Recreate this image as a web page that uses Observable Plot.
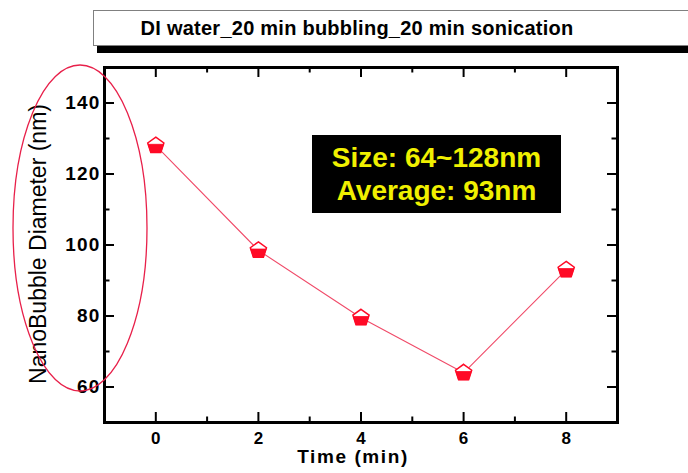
<!DOCTYPE html>
<html>
<head>
<meta charset="utf-8">
<script src="https://cdn.jsdelivr.net/npm/d3@7"></script>
<script src="https://cdn.jsdelivr.net/npm/@observablehq/plot@0.6"></script>
<style>
  html, body { margin: 0; padding: 0; background: #fff; }
  #chart { position: relative; width: 688px; height: 473px; overflow: hidden; font-family: "Liberation Sans", Arial, sans-serif; }
  #note {
    position: absolute; left: 312px; top: 135px; width: 249px; height: 78px;
    background: #000; color: #f0f000; font-weight: bold; font-size: 28px;
    line-height: 33px; text-align: center; box-sizing: border-box; padding-top: 6px;
  }
  #chart svg { position: absolute; left: 0; top: 0; }
</style>
</head>
<body>
<div id="chart"></div>
<script>
// Measured nanobubble diameter over time
const times = [0, 2, 4, 6, 8];
const diameters = [128, 98.5, 79.5, 64, 93];

// Axis ticks
const xMajor = [0, 2, 4, 6, 8];
const xMinor = [1, 3, 5, 7];
const yMajor = [60, 80, 100, 120, 140];
const yMinor = [70, 90, 110, 130];

// Text
const titleText = "DI water_20 min bubbling_20 min sonication";
const xLabel = "Time (min)";
const yLabel = "NanoBubble Diameter (nm)";

const data = times.map((t, i) => ({time: t, diameter: diameters[i]}));

const W = 688, H = 473;
const mL = 104, mR = 71, mT = 67, mB = 51;
const frameW = W - mL - mR, frameH = H - mT - mB;
const red = "#ff0a26";
const font = "'Liberation Sans', Arial, sans-serif";

// Regular pentagon, point up
function pentagonPoints(r) {
  return d3.range(5).map(i => {
    const a = -Math.PI / 2 + i * 2 * Math.PI / 5;
    return [r * Math.cos(a), r * Math.sin(a)];
  });
}
// Keep the part of a polygon below the horizontal line y = ys
function clipBelow(pts, ys) {
  const out = [];
  for (let i = 0; i < pts.length; i++) {
    const p = pts[i], q = pts[(i + 1) % pts.length];
    const pin = p[1] >= ys, qin = q[1] >= ys;
    if (pin) out.push(p);
    if (pin !== qin) {
      const t = (ys - p[1]) / (q[1] - p[1]);
      out.push([p[0] + t * (q[0] - p[0]), ys]);
    }
  }
  return out;
}
function polyPath(ctx, pts) {
  ctx.moveTo(pts[0][0], pts[0][1]);
  for (let i = 1; i < pts.length; i++) ctx.lineTo(pts[i][0], pts[i][1]);
  ctx.closePath();
}
const pentagon = {draw(ctx, size) { polyPath(ctx, pentagonPoints(Math.sqrt(size / Math.PI))); }};
const lowerPentagon = {draw(ctx, size) {
  const r = Math.sqrt(size / Math.PI);
  polyPath(ctx, clipBelow(pentagonPoints(r), -0.15 * r));
}};

const majorLen = 10, minorLen = 5.5;
const tickStyle = {stroke: "#000", strokeOpacity: 1, strokeWidth: 2};

const plot = Plot.plot({
  width: W, height: H,
  marginLeft: mL, marginRight: mR, marginTop: mT, marginBottom: mB,
  style: {fontFamily: font, fontSize: "17px", fontWeight: "bold", color: "#000", background: "transparent"},
  x: {domain: [-1, 9]},
  y: {domain: [50, 150]},
  marks: [
    // inward ticks on all four sides
    Plot.gridX(xMajor, {...tickStyle, insetTop: frameH - majorLen}),
    Plot.gridX(xMinor, {...tickStyle, insetTop: frameH - minorLen}),
    Plot.gridX(xMajor, {...tickStyle, insetBottom: frameH - majorLen}),
    Plot.gridX(xMinor, {...tickStyle, insetBottom: frameH - minorLen}),
    Plot.gridY(yMajor, {...tickStyle, insetRight: frameW - majorLen}),
    Plot.gridY(yMinor, {...tickStyle, insetRight: frameW - minorLen}),
    Plot.gridY(yMajor, {...tickStyle, insetLeft: frameW - majorLen}),
    Plot.gridY(yMinor, {...tickStyle, insetLeft: frameW - minorLen}),
    Plot.frame({stroke: "#000", strokeWidth: 3}),
    Plot.axisX({ticks: xMajor, tickSize: 0, tickPadding: 9, label: null, fontSize: 17, fontWeight: "bold"}),
    Plot.axisY({ticks: yMajor, tickSize: 0, tickPadding: 4, label: null, fontSize: 19, fontWeight: "bold"}),
    Plot.text([xLabel], {frameAnchor: "bottom", dy: 40, dx: -8, fontWeight: "bold", fontSize: 19, textAnchor: "middle"}),
    Plot.text([yLabel], {frameAnchor: "left", rotate: -90, dx: -66, dy: -1, fontWeight: "normal", fontSize: 23, textAnchor: "middle"}),
    Plot.line(data, {x: "time", y: "diameter", stroke: "#f04a68", strokeWidth: 1.1}),
    Plot.dot(data, {x: "time", y: "diameter", symbol: pentagon, r: 8.5, fill: "#fff", stroke: red, strokeWidth: 1.5}),
    Plot.dot(data, {x: "time", y: "diameter", symbol: lowerPentagon, r: 8.5, fill: red, stroke: red, strokeWidth: 0.8})
  ]
});

const svg = d3.select(plot);
svg.selectAll('g[aria-label="y-axis tick label"]').attr("letter-spacing", 1.2);
svg.selectAll("text").filter(function() { return this.textContent === xLabel; }).attr("letter-spacing", 1.6);

// Highlight ring around the vertical axis label
svg.append("ellipse")
  .attr("cx", 80).attr("cy", 228).attr("rx", 67).attr("ry", 163)
  .attr("fill", "none").attr("stroke", "#e8204a").attr("stroke-width", 1.3);

// Title box with its drop shadow
const head = svg.append("g");
head.append("rect").attr("x", 97).attr("y", 44).attr("width", 640).attr("height", 9).attr("fill", "#000");
head.append("rect").attr("x", 93.5).attr("y", 10.5).attr("width", 640).attr("height", 35)
  .attr("fill", "#fff").attr("stroke", "#808080").attr("stroke-width", 1);
head.append("text").attr("x", 357).attr("y", 35)
  .attr("text-anchor", "middle").attr("font-family", font).attr("font-size", 20)
  .attr("font-weight", "bold").attr("letter-spacing", 0.25).attr("fill", "#000")
  .text(titleText);

const chart = document.getElementById("chart");
chart.appendChild(plot);

// Summary box computed from the measurements
const minD = d3.min(diameters), maxD = d3.max(diameters), meanD = d3.mean(diameters);
const note = document.createElement("div");
note.id = "note";
note.innerHTML = `<div></div><div></div>`;
note.children[0].textContent = `Size: ${minD}~${maxD}nm`;
note.children[1].textContent = `Average: ${Math.round(meanD)}nm`;
chart.appendChild(note);
</script>
</body>
</html>
